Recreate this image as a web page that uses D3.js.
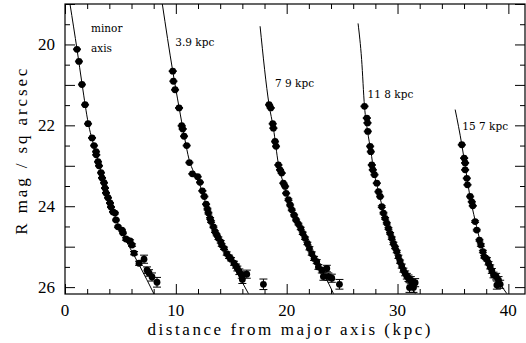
<!DOCTYPE html>
<html>
<head>
<meta charset="utf-8">
<script src="https://cdn.jsdelivr.net/npm/d3@7"></script>
<style>
  body { margin: 0; background: #fff; }
  svg { display: block; }
  .frame { fill: none; stroke: #000; stroke-width: 1.2; }
  .tick line { stroke: #000; stroke-width: 1; }
  .ticklabel { font-family: "Liberation Serif", serif; font-size: 17px; fill: #000; }
  .title { font-family: "Liberation Serif", serif; font-size: 17px; fill: #000; }
  .note { font-family: "DejaVu Serif", serif; font-size: 10.5px; fill: #000; }
  .fit { fill: none; stroke: #000; stroke-width: 1; }
  .err { stroke: #000; stroke-width: 1; }
</style>
</head>
<body>
<div id="chart"></div>
<script>
// profile offsets along the major axis
const labels = ['minor axis', '3.9 kpc', '7 9 kpc', '11 8 kpc', '15 7 kpc'];

// minor axis
const p1x = [1.08, 1.26, 1.53, 1.81, 2.08, 2.44, 2.62, 2.80, 2.82, 2.98, 3.07, 3.25, 3.34, 3.52, 3.61, 3.70, 3.88, 4.06, 4.15, 4.33, 4.51, 4.60, 4.78, 5.14, 5.23, 5.50, 5.87, 6.05, 6.23, 6.68, 7.13, 7.40, 7.58, 7.85, 8.30];
const p1y = [20.12, 20.42, 20.99, 21.49, 21.96, 22.31, 22.50, 22.65, 22.73, 22.90, 23.00, 23.17, 23.30, 23.42, 23.55, 23.67, 23.79, 23.92, 24.02, 24.14, 24.17, 24.34, 24.51, 24.59, 24.66, 24.81, 24.86, 24.96, 25.16, 25.41, 25.31, 25.58, 25.65, 25.75, 25.88];
const p1e = [0.01, 0.01, 0.01, 0.01, 0.01, 0.01, 0.01, 0.01, 0.01, 0.01, 0.01, 0.01, 0.01, 0.01, 0.01, 0.01, 0.01, 0.01, 0.01, 0.01, 0.02, 0.02, 0.02, 0.02, 0.02, 0.03, 0.03, 0.03, 0.04, 0.05, 0.10, 0.08, 0.08, 0.10, 0.12];
const l1 = [[0.45, 19.0], [1.1, 20.15], [1.55, 21.0], [2.1, 21.95], [2.6, 22.5], [3.1, 23.0], [3.6, 23.5], [4.2, 24.0], [4.8, 24.45], [5.5, 24.85], [6.2, 25.2], [6.75, 25.48], [8.03, 26.17]];

// 3.9 kpc
const p2x = [9.72, 9.78, 9.93, 10.29, 10.53, 10.62, 10.74, 10.98, 11.22, 11.49, 11.97, 12.18, 12.39, 12.57, 12.73, 12.85, 12.94, 13.09, 13.18, 13.39, 13.54, 13.69, 13.84, 14.05, 14.14, 14.35, 14.59, 14.80, 14.98, 15.25, 15.43, 15.55, 15.73, 15.95, 16.40, 16.00, 17.90];
const p2y = [20.66, 20.91, 21.12, 21.57, 22.01, 22.09, 22.27, 22.50, 22.92, 23.20, 23.27, 23.41, 23.62, 23.76, 23.95, 24.07, 24.17, 24.30, 24.38, 24.51, 24.63, 24.71, 24.79, 24.88, 24.96, 25.04, 25.17, 25.25, 25.31, 25.41, 25.48, 25.54, 25.62, 25.70, 25.68, 25.81, 25.93];
const p2e = [0.01, 0.01, 0.01, 0.01, 0.01, 0.01, 0.01, 0.01, 0.01, 0.01, 0.01, 0.01, 0.01, 0.01, 0.01, 0.02, 0.02, 0.02, 0.02, 0.02, 0.02, 0.02, 0.03, 0.03, 0.03, 0.03, 0.04, 0.04, 0.04, 0.05, 0.05, 0.06, 0.07, 0.08, 0.10, 0.10, 0.13];
const l2 = [[8.78, 19.0], [9.72, 20.66], [10.3, 21.57], [10.75, 22.25], [11.2, 22.85], [11.6, 23.15], [12.2, 23.5], [12.9, 24.1], [13.6, 24.62], [14.4, 25.08], [15.55, 25.66], [16.55, 26.16]];

// 7.9 kpc
const p3x = [18.41, 18.56, 18.74, 18.80, 18.95, 19.04, 19.25, 19.40, 19.55, 19.70, 19.86, 19.95, 20.16, 20.31, 20.46, 20.67, 20.85, 21.06, 21.27, 21.45, 21.66, 21.87, 22.05, 22.26, 22.47, 22.71, 22.86, 23.17, 23.62, 23.31, 23.76, 24.07, 24.76];
const p3y = [21.49, 21.57, 21.96, 22.07, 22.40, 22.52, 22.98, 23.10, 23.18, 23.43, 23.51, 23.68, 23.84, 23.97, 24.09, 24.22, 24.34, 24.44, 24.55, 24.67, 24.79, 24.92, 25.04, 25.17, 25.29, 25.37, 25.50, 25.58, 25.54, 25.74, 25.74, 25.78, 25.93];
const p3e = [0.01, 0.01, 0.01, 0.01, 0.01, 0.01, 0.01, 0.01, 0.01, 0.01, 0.01, 0.01, 0.02, 0.02, 0.02, 0.02, 0.02, 0.02, 0.03, 0.03, 0.03, 0.03, 0.04, 0.04, 0.05, 0.05, 0.06, 0.07, 0.08, 0.09, 0.09, 0.10, 0.12];
const l3 = [[17.6, 19.55], [18.41, 21.49], [18.8, 22.07], [19.25, 22.95], [19.7, 23.43], [20.3, 23.95], [21.0, 24.42], [21.8, 24.9], [22.5, 25.3], [23.47, 25.74], [24.22, 26.16]];

// 11.8 kpc
const p4x = [27.02, 27.23, 27.29, 27.32, 27.53, 27.59, 27.68, 27.77, 27.92, 28.13, 28.28, 28.43, 28.58, 28.73, 28.88, 29.03, 29.18, 29.33, 29.48, 29.63, 29.78, 29.93, 30.08, 30.23, 30.38, 30.53, 30.69, 30.84, 30.99, 31.20, 31.29, 31.59, 31.08, 31.44];
const p4y = [21.53, 21.82, 21.94, 22.15, 22.52, 22.65, 22.98, 23.10, 23.22, 23.43, 23.64, 23.76, 24.01, 24.17, 24.30, 24.42, 24.55, 24.67, 24.79, 24.92, 25.02, 25.12, 25.25, 25.37, 25.48, 25.58, 25.66, 25.73, 25.78, 25.83, 25.91, 25.89, 26.01, 26.01];
const p4e = [0.01, 0.01, 0.01, 0.01, 0.01, 0.01, 0.01, 0.01, 0.01, 0.01, 0.01, 0.01, 0.02, 0.02, 0.02, 0.02, 0.02, 0.02, 0.03, 0.03, 0.03, 0.03, 0.04, 0.04, 0.05, 0.05, 0.06, 0.07, 0.08, 0.09, 0.10, 0.10, 0.12, 0.12];
const l4 = [[26.44, 19.48], [26.76, 20.37], [27.02, 21.53], [27.3, 22.15], [27.6, 22.65], [27.85, 23.12], [28.3, 23.65], [28.8, 24.2], [29.4, 24.7], [30.0, 25.17], [30.6, 25.6], [31.1, 25.9], [31.6, 26.16]];

// 15.7 kpc
const p5x = [35.80, 36.01, 36.10, 36.10, 36.25, 36.31, 36.55, 36.70, 36.79, 37.00, 37.15, 37.39, 37.52, 37.70, 37.82, 38.06, 38.21, 38.36, 38.51, 38.66, 38.90, 39.11, 39.26, 38.96];
const p5y = [22.48, 22.81, 22.93, 23.10, 23.31, 23.47, 23.76, 23.89, 23.99, 24.38, 24.59, 24.84, 24.96, 25.12, 25.25, 25.31, 25.41, 25.50, 25.60, 25.70, 25.74, 25.83, 25.93, 25.95];
const p5e = [0.01, 0.01, 0.01, 0.01, 0.01, 0.01, 0.01, 0.01, 0.01, 0.02, 0.02, 0.02, 0.03, 0.03, 0.03, 0.04, 0.04, 0.05, 0.06, 0.07, 0.08, 0.09, 0.10, 0.10];
const l5 = [[35.2, 21.61], [35.8, 22.48], [36.1, 23.0], [36.5, 23.7], [37.0, 24.35], [37.5, 24.9], [38.1, 25.3], [38.7, 25.7], [39.4, 25.98], [39.86, 26.16]];

const xTicks = [0, 10, 20, 30, 40];
const yTicks = [20, 22, 24, 26];

const profiles = [
  { x: p1x, y: p1y, e: p1e, fit: l1 },
  { x: p2x, y: p2y, e: p2e, fit: l2 },
  { x: p3x, y: p3y, e: p3e, fit: l3 },
  { x: p4x, y: p4y, e: p4e, fit: l4 },
  { x: p5x, y: p5y, e: p5e, fit: l5 }
];

const width = 526, height = 343;
const margin = { top: 4, right: 1, bottom: 49, left: 65 };
const innerW = width - margin.left - margin.right;
const innerH = height - margin.top - margin.bottom;

const svg = d3.select('#chart').append('svg')
  .attr('width', width)
  .attr('height', height);

const x = d3.scaleLinear().domain([0, 41.5]).range([0, innerW]);
const y = d3.scaleLinear().domain([19, 26.17]).range([0, innerH]);

const g = svg.append('g')
  .attr('transform', 'translate(' + margin.left + ',' + margin.top + ')');

// ticks on all four sides, pointing inward
const xMinor = d3.range(0, 42, 2);
const yMinor = d3.range(19, 26.2, 0.5);

g.append('g')
  .attr('class', 'axis axis--x')
  .attr('transform', 'translate(0,' + innerH + ')')
  .call(d3.axisTop(x).tickValues(xMinor).tickSize(5).tickFormat(''))
  .call(a => a.select('.domain').remove())
  .call(a => a.selectAll('.tick line').filter(d => d % 10 === 0).attr('y2', -10));

g.append('g')
  .attr('class', 'axis axis--x2')
  .call(d3.axisBottom(x).tickValues(xMinor).tickSize(5).tickFormat(''))
  .call(a => a.select('.domain').remove())
  .call(a => a.selectAll('.tick line').filter(d => d % 10 === 0).attr('y2', 10));

g.append('g')
  .attr('class', 'axis axis--y')
  .call(d3.axisRight(y).tickValues(yMinor).tickSize(5).tickFormat(''))
  .call(a => a.select('.domain').remove())
  .call(a => a.selectAll('.tick line').filter(d => Number.isInteger(d)).attr('x2', 10));

g.append('g')
  .attr('class', 'axis axis--y2')
  .attr('transform', 'translate(' + innerW + ',0)')
  .call(d3.axisLeft(y).tickValues(yMinor).tickSize(5).tickFormat(''))
  .call(a => a.select('.domain').remove())
  .call(a => a.selectAll('.tick line').filter(d => Number.isInteger(d)).attr('x2', -10));

g.append('rect')
  .attr('class', 'frame')
  .attr('width', innerW)
  .attr('height', innerH);

g.selectAll('.xlab')
  .data(xTicks)
  .enter().append('text')
  .attr('class', 'ticklabel')
  .attr('x', d => x(d))
  .attr('y', innerH + 22)
  .attr('text-anchor', 'middle')
  .text(d => d);

g.selectAll('.ylab')
  .data(yTicks)
  .enter().append('text')
  .attr('class', 'ticklabel')
  .attr('x', -10)
  .attr('y', d => y(d))
  .attr('dy', '0.35em')
  .attr('text-anchor', 'end')
  .text(d => d);

g.append('text')
  .attr('class', 'title')
  .attr('x', innerW / 2 - 6)
  .attr('y', innerH + 41)
  .attr('text-anchor', 'middle')
  .attr('textLength', 283)
  .attr('lengthAdjust', 'spacing')
  .text('distance from major axis (kpc)');

g.append('text')
  .attr('class', 'title')
  .attr('transform', 'translate(' + (-38) + ',' + (y(22.65)) + ') rotate(-90)')
  .attr('text-anchor', 'middle')
  .attr('textLength', 166)
  .attr('lengthAdjust', 'spacing')
  .text('R mag / sq arcsec');

// fitted model curves
const line = d3.line()
  .x(d => x(d[0]))
  .y(d => y(d[1]))
  .curve(d3.curveMonotoneX);

const plot = g.append('g');

plot.selectAll('.fit')
  .data(profiles)
  .enter().append('path')
  .attr('class', 'fit')
  .attr('d', d => line(d.fit));

profiles.forEach(p => {
  const pts = p.x.map((v, i) => ({ x: v, y: p.y[i], e: p.e[i] }));
  const grp = plot.append('g');

  grp.selectAll('.err')
    .data(pts)
    .enter().append('path')
    .attr('class', 'err')
    .attr('d', d => {
      const cx = x(d.x), y0 = y(d.y - d.e), y1 = y(d.y + d.e);
      return 'M' + cx + ',' + y0 + 'V' + y1 +
        'M' + (cx - 4) + ',' + y0 + 'H' + (cx + 4) +
        'M' + (cx - 4) + ',' + y1 + 'H' + (cx + 4);
    });

  grp.selectAll('.dot')
    .data(pts)
    .enter().append('circle')
    .attr('class', 'dot')
    .attr('cx', d => x(d.x))
    .attr('cy', d => y(d.y))
    .attr('r', 3.4)
    .attr('fill', '#000');
});

// profile labels
const notePos = [[2.35, 19.68], [9.95, 20.05], [18.95, 21.06], [27.3, 21.33], [35.85, 22.12]];
g.append('text').attr('class', 'note').attr('x', x(notePos[0][0])).attr('y', y(notePos[0][1])).text('minor');
g.append('text').attr('class', 'note').attr('x', x(notePos[0][0])).attr('y', y(notePos[0][1] + 0.5)).text('axis');
labels.slice(1).forEach((t, i) => {
  g.append('text')
    .attr('class', 'note')
    .attr('x', x(notePos[i + 1][0]))
    .attr('y', y(notePos[i + 1][1]))
    .text(t);
});
</script>
</body>
</html>
